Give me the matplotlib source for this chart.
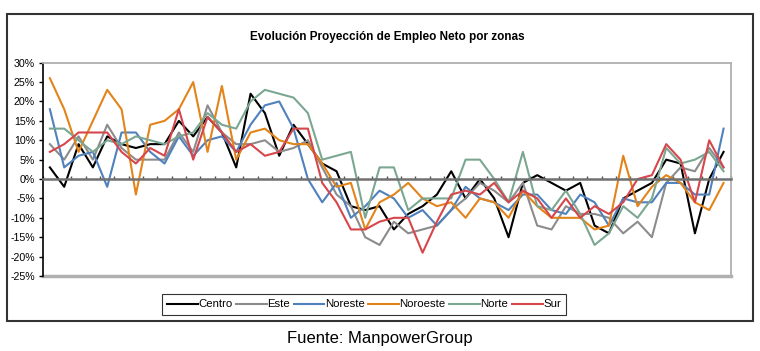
import numpy as np
import matplotlib
matplotlib.use("Agg")
import matplotlib.pyplot as plt
from matplotlib.patches import Rectangle
from matplotlib.ticker import FuncFormatter

# series por zona (% empleo neto, trimestral)
zonas = ["Centro", "Este", "Noreste", "Noroeste", "Norte", "Sur"]
colores = ["#000000", "#8c8c8c", "#4f81bd", "#e3841a", "#7ba792", "#d6474b"]

centro = [3, -2, 9, 3, 11, 9, 8, 9, 9, 15, 11, 16, 12, 3, 22, 17, 6, 14, 9, 4,
          2, -7, -8, -7, -13, -9, -7, -4, 2, -5, 0, -5, -15, -1, 1, -1, -3, -1,
          -12, -14, -5, -3, -1, 5, 4, -14, 0, 7]
este = [9, 5, 11, 5, 14, 8, 5, 5, 5, 12, 7, 19, 12, 9, 9, 10, 7, 8, 10, 3,
        -4, -7, -15, -17, -11, -14, -13, -12, -8, -5, -1, -3, -6, -1, -12, -13,
        -7, -9, -9, -10, -14, -11, -15, -1, 3, 2, 8, 3]
noreste = [18, 3, 6, 7, -2, 12, 12, 7, 4, 11, 6, 10, 11, 7, 14, 19, 20, 13, 0,
           -6, -1, -10, -7, -3, -5, -10, -8, -12, -8, -2, -5, -6, -8, -4, -4,
           -8, -9, -4, -6, -12, -5, -6, -6, -1, -1, -4, -4, 13]
noroeste = [26, 18, 7, 15, 23, 18, -4, 14, 15, 18, 25, 7, 24, 5, 12, 13, 10, 9,
            9, 4, -2, -1, -13, -6, -4, -1, -5, -7, -6, -10, -5, -6, -10, -3, -7,
            -10, -10, -10, -13, -12, 6, -7, -2, 1, -1, -6, -8, -1]
norte = [13, 13, 10, 7, 10, 9, 11, 10, 9, 11, 12, 17, 14, 13, 20, 23, 22, 21,
         17, 5, 6, 7, -10, 3, 3, -8, -5, -5, -5, 5, 5, 0, -6, 7, -7, -8, -3, -9,
         -17, -14, -7, -10, -5, 8, 4, 5, 7, 2]
sur = [7, 9, 12, 12, 12, 7, 4, 8, 6, 18, 5, 16, 12, 7, 9, 6, 7, 13, 13, -1, -6,
       -13, -13, -11, -10, -10, -19, -11, -4, -3, -4, -1, -6, -3, -5, -10, -5,
       -10, -7, -9, -6, 0, 1, 9, 5, -6, 10, 3]

series = [centro, este, noreste, noroeste, norte, sur]

arial = ["Liberation Sans", "DejaVu Sans"]

fig = plt.figure(figsize=(7.6, 3.51), dpi=100)
ax = fig.add_axes([0.0562, 0.2137, 0.9053, 0.6077])

x = np.arange(len(centro))
for nombre, datos, col in zip(zonas, series, colores):
    ax.plot(x, datos, color=col, linewidth=1.5, label=nombre)

ax.set_xlim(-0.5, len(centro) - 0.5)
ax.set_ylim(-25, 30)
ax.set_yticks(np.arange(-25, 31, 5))
ax.yaxis.set_major_formatter(FuncFormatter(lambda v, p: "%d%%" % v))
for lab in ax.get_yticklabels():
    lab.set_family(arial)
ax.tick_params(axis="y", length=3, width=1, color="black", labelsize=7.7, pad=2.5)

# eje de categorias en el cero
ax.spines["bottom"].set_position(("data", 0))
ax.spines["bottom"].set_color("#707070")
ax.spines["bottom"].set_linewidth(1.8)
ax.set_xticks(np.arange(-0.5, len(centro), 1))
ax.set_xticklabels([])
ax.tick_params(axis="x", direction="in", length=2.5, width=1, color="#505050")

ax.spines["left"].set_color("black")
ax.spines["left"].set_linewidth(1.2)
for s in ["top", "right"]:
    ax.spines[s].set_color("#b0b0b0")
    ax.spines[s].set_linewidth(1.3)
ax.axhline(-25, color="#b0b0b0", linewidth=2.5, clip_on=False, zorder=0)

leg = fig.legend(loc="center", bbox_to_anchor=(0.479, 0.1325), ncol=6,
                 prop={"family": arial, "size": 8.2}, frameon=True, fancybox=False,
                 handlelength=2.7, handletextpad=0.05, columnspacing=0.3,
                 borderpad=0.45, borderaxespad=0)
leg.get_frame().set_edgecolor("black")
leg.get_frame().set_linewidth(0.8)

fig.text(0.51, 1 - 37 / 351, "Evolución Proyección de Empleo Neto por zonas",
         ha="center", va="center", fontsize=8.5, fontweight="bold", family=arial)
fig.text(0.5, 1 - 338 / 351, "Fuente: ManpowerGroup", ha="center", va="center",
         fontsize=12, family=arial)

fig.add_artist(Rectangle((7 / 760, 1 - 321 / 351), 746 / 760, 307 / 351,
                         transform=fig.transFigure, fill=False,
                         edgecolor="#333333", linewidth=1.5))

fig.savefig("out.png", dpi=100)
